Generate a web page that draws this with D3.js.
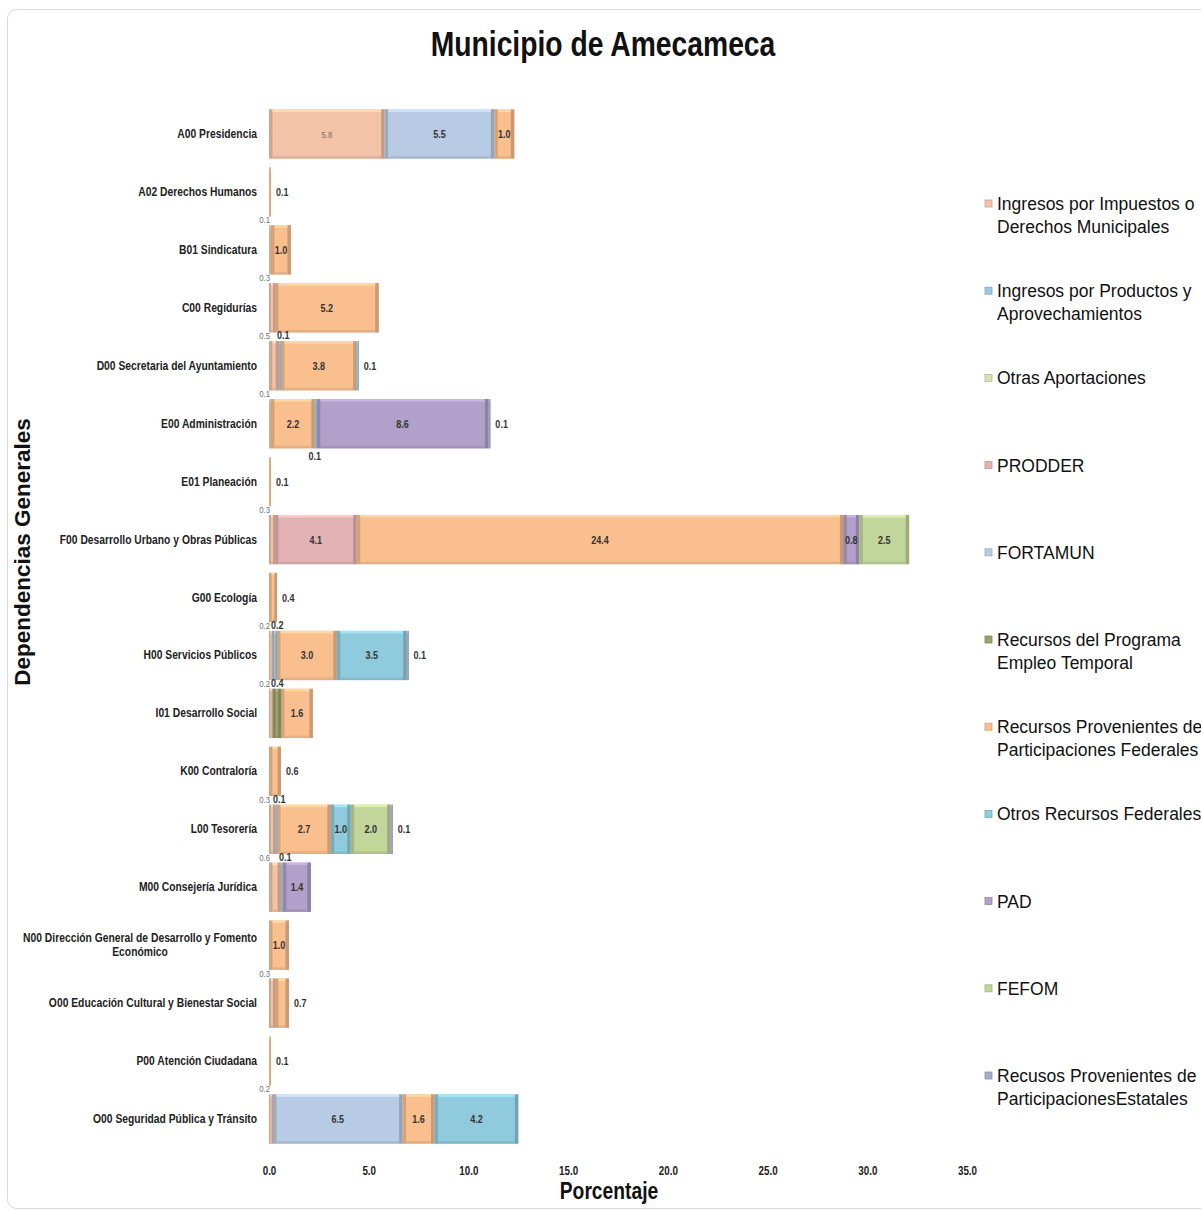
<!DOCTYPE html>
<html>
<head>
<meta charset="utf-8">
<script src="https://cdn.jsdelivr.net/npm/d3@7"></script>
<style>
  body { margin: 0; background: #fff; }
  svg { display: block; }
</style>
</head>
<body>
<script>
// datos (porcentaje)
const categorias = [
  "A00 Presidencia", "A02 Derechos Humanos", "B01 Sindicatura", "C00 Regidurías",
  "D00 Secretaria del Ayuntamiento", "E00 Administración", "E01 Planeación",
  "F00 Desarrollo Urbano y Obras Públicas", "G00 Ecología", "H00 Servicios Públicos",
  "I01 Desarrollo Social", "K00 Contraloría", "L00 Tesorería", "M00 Consejería Jurídica",
  "N00 Dirección General de Desarrollo y Fomento\nEconómico",
  "O00 Educación Cultural y Bienestar Social", "P00 Atención Ciudadana",
  "O00 Seguridad Pública y Tránsito"
];

const series = [
  "Ingresos por Impuestos o\nDerechos Municipales",
  "Ingresos por Productos y\nAprovechamientos",
  "Otras Aportaciones",
  "PRODDER",
  "FORTAMUN",
  "Recursos del Programa\nEmpleo Temporal",
  "Recursos Provenientes de\nParticipaciones Federales",
  "Otros Recursos Federales",
  "PAD",
  "FEFOM",
  "Recusos Provenientes de\nParticipacionesEstatales"
];

const impuestos  = [5.8, 0, 0.1, 0.3, 0.5, 0.1, 0, 0.3, 0, 0.2, 0.2, 0, 0.3, 0.6, 0, 0.3, 0, 0.2];
const productos  = [0, 0, 0, 0, 0.1, 0, 0, 0, 0, 0.2, 0, 0, 0.1, 0.1, 0, 0, 0, 0];
const otrasAport = [0, 0, 0, 0, 0, 0, 0, 0, 0, 0, 0, 0, 0, 0, 0, 0, 0, 0];
const prodder    = [0, 0, 0, 0, 0, 0, 0, 4.1, 0, 0, 0, 0, 0, 0, 0, 0, 0, 0];
const fortamun   = [5.5, 0, 0, 0, 0, 0, 0, 0, 0, 0, 0, 0, 0, 0, 0, 0, 0, 6.5];
const empleoTemp = [0, 0, 0, 0, 0, 0, 0, 0, 0, 0, 0.4, 0, 0, 0, 0, 0, 0, 0];
const partFed    = [1.0, 0.1, 1.0, 5.2, 3.8, 2.2, 0.1, 24.4, 0.4, 3.0, 1.6, 0.6, 2.7, 0, 1.0, 0.7, 0.1, 1.6];
const otrosFed   = [0, 0, 0, 0, 0.1, 0.1, 0, 0, 0, 3.5, 0, 0, 1.0, 0, 0, 0, 0, 4.2];
const pad        = [0, 0, 0, 0, 0, 8.6, 0, 0.8, 0, 0, 0, 0, 0, 1.4, 0, 0, 0, 0];
const fefom      = [0, 0, 0, 0, 0, 0, 0, 2.5, 0, 0, 0, 0, 2.0, 0, 0, 0, 0, 0];
const estatales  = [0, 0, 0, 0, 0, 0.1, 0, 0, 0, 0.1, 0, 0, 0.1, 0, 0, 0, 0, 0];

const xTicks = [0, 5, 10, 15, 20, 25, 30, 35];

const colores = ["#f4c2a6", "#9fc5e4", "#d4e2b6", "#e3b3b3", "#b7cbe4", "#98a36e",
                 "#f9bf8e", "#8fcbdc", "#b1a0c9", "#c2d59a", "#a9acc9"];

const valores = [impuestos, productos, otrasAport, prodder, fortamun, empleoTemp,
                 partFed, otrosFed, pad, fefom, estatales];

// ---------------------------------------------------------------
const W = 1201, H = 1211;
const arial = "'Liberation Sans', Arial, sans-serif";
const ESTRECHO = 0.82; // imitar Arial Narrow

const svg = d3.select("body").append("svg")
  .attr("width", W).attr("height", H);

// coloca un texto comprimido horizontalmente
function estrecho(t, px, py, f) {
  t.attr("transform", `translate(${px},${py}) scale(${f || ESTRECHO},1)`)
    .attr("x", 0).attr("y", 0);
  return t;
}

// marco
svg.append("rect")
  .attr("x", 7.5).attr("y", 9.5)
  .attr("width", 1230).attr("height", 1199)
  .attr("rx", 9)
  .attr("fill", "#fff").attr("stroke", "#d9d9d9");

estrecho(svg.append("text"), 603, 56)
  .attr("text-anchor", "middle")
  .style("font-family", arial).style("font-weight", "bold").style("font-size", "34.5px")
  .attr("fill", "#111")
  .text("Municipio de Amecameca");

const x = d3.scaleLinear().domain([0, 35]).range([269, 967]);
const y = d3.scaleBand().domain(d3.range(categorias.length))
  .range([105, 1148]).paddingInner(0.15).paddingOuter(0.075);

const filas = categorias.map((c, i) => {
  const o = { i: i };
  series.forEach((s, k) => o[k] = valores[k][i]);
  return o;
});
const keys = d3.range(series.length);
const apilado = d3.stack().keys(keys)(filas);

// segmentos por fila (solo los que tienen valor)
const segmentos = [];
apilado.forEach(capa => {
  capa.forEach(d => {
    const v = d.data[capa.key];
    if (v > 0) segmentos.push({ k: capa.key, i: d.data.i, x0: d[0], x1: d[1], v: v });
  });
});

// barras
const g = svg.append("g");
segmentos.forEach(s => {
  const c = colores[s.k];
  const bx = x(s.x0), bw = x(s.x1) - x(s.x0);
  const by = y(s.i), bh = y.bandwidth();
  const seg = g.append("g");
  seg.append("rect")
    .attr("x", bx).attr("y", by).attr("width", bw).attr("height", bh)
    .attr("fill", c);
  // bisel
  const e = Math.min(3.5, bw / 3);
  seg.append("rect").attr("x", bx).attr("y", by).attr("width", e).attr("height", bh)
    .attr("fill", d3.color(c).darker(0.45));
  seg.append("rect").attr("x", bx + bw - e).attr("y", by).attr("width", e).attr("height", bh)
    .attr("fill", d3.color(c).darker(0.6));
  seg.append("rect").attr("x", bx + e).attr("y", by).attr("width", Math.max(0, bw - 2 * e)).attr("height", 2.5)
    .attr("fill", d3.color(c).brighter(0.35));
  seg.append("rect").attr("x", bx + e).attr("y", by + bh - 2.5).attr("width", Math.max(0, bw - 2 * e)).attr("height", 2.5)
    .attr("fill", d3.color(c).darker(0.25));
});

// etiquetas de datos
const fmt = d3.format(".1f");
const etiquetas = svg.append("g").style("font-family", arial);
d3.range(categorias.length).forEach(i => {
  const fila = segmentos.filter(s => s.i === i);
  fila.forEach((s, n) => {
    const by = y(s.i), bh = y.bandwidth();
    const t = etiquetas.append("text").text(fmt(s.v));
    const claro = s.k === 0;
    t.style("font-size", claro ? "9.5px" : "11px")
      .style("font-weight", claro ? "normal" : "bold")
      .attr("fill", claro ? "#6e6e6e" : "#333");
    if (s.v >= 0.8) {
      estrecho(t, x((s.x0 + s.x1) / 2), by + bh / 2 + 4).attr("text-anchor", "middle");
    } else if (n === fila.length - 1) {
      estrecho(t, x(s.x1) + 5, by + bh / 2 + 4);
    } else if (n === 0) {
      estrecho(t, x(s.x0) + 1, by - 2).attr("text-anchor", "end");
    } else {
      const antesGrande = fila.slice(0, n).some(p => p.v >= 0.8);
      if (antesGrande) {
        estrecho(t, x(s.x0), by + bh + 12).attr("text-anchor", "middle");
      } else {
        estrecho(t, x(s.x0) - 2, by - 2);
      }
    }
  });
});

// categorias
const cat = svg.append("g").style("font-family", arial)
  .style("font-weight", "bold").style("font-size", "12px").attr("fill", "#222");
categorias.forEach((c, i) => {
  const lineas = c.split("\n");
  const cy = y(i) + y.bandwidth() / 2;
  const t = estrecho(cat.append("text"), 257, cy + 4, 0.86);
  lineas.forEach(l => t.append("tspan").text(l));
  const anchos = [];
  t.selectAll("tspan").each(function () { anchos.push(this.getComputedTextLength()); });
  const maxW = d3.max(anchos);
  const lh = 14;
  t.selectAll("tspan")
    .attr("text-anchor", lineas.length > 1 ? "middle" : "end")
    .attr("x", lineas.length > 1 ? -maxW / 2 : 0)
    .attr("y", (d, j) => (j - (lineas.length - 1) / 2) * lh);
});

// eje x
const ejeX = svg.append("g")
  .attr("transform", "translate(0,1148)")
  .call(d3.axisBottom(x).tickValues(xTicks).tickFormat(fmt).tickSize(0).tickPadding(18));
ejeX.select(".domain").remove();
ejeX.selectAll(".tick text")
  .attr("transform", `scale(${ESTRECHO},1)`)
  .attr("x", 0)
  .style("font-family", arial).style("font-weight", "bold").style("font-size", "12px")
  .attr("fill", "#222");

estrecho(svg.append("text"), 609, 1199)
  .attr("text-anchor", "middle")
  .style("font-family", arial).style("font-weight", "bold").style("font-size", "23.5px")
  .attr("fill", "#111")
  .text("Porcentaje");

svg.append("text")
  .attr("transform", "translate(30,552) rotate(-90)")
  .attr("text-anchor", "middle")
  .style("font-family", arial).style("font-weight", "bold").style("font-size", "22.5px")
  .attr("fill", "#111")
  .text("Dependencias Generales");

// leyenda
const ly = d3.scalePoint().domain(keys).range([204, 1076]);
const leyenda = svg.append("g");
series.forEach((s, k) => {
  const yy = ly(k);
  leyenda.append("rect")
    .attr("x", 985).attr("y", yy - 4).attr("width", 7).attr("height", 7)
    .attr("fill", colores[k]).attr("stroke", d3.color(colores[k]).darker(0.5)).attr("stroke-width", 0.8);
  const t = leyenda.append("text")
    .style("font-family", arial).style("font-size", "17.5px").attr("fill", "#111");
  s.split("\n").forEach((l, j) => {
    t.append("tspan").attr("x", 997).attr("y", yy + 6 + j * 23).text(l);
  });
});
</script>
</body>
</html>
